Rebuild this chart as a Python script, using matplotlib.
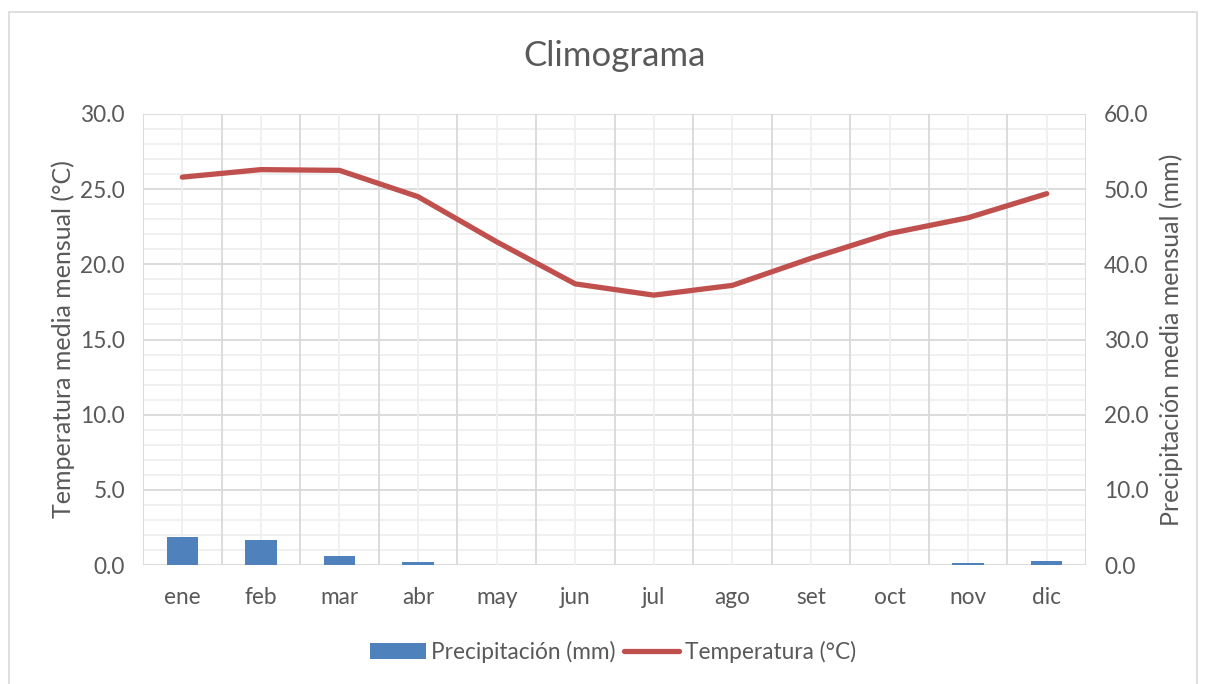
import matplotlib
matplotlib.use("Agg")
import matplotlib.pyplot as plt
from matplotlib.patches import Rectangle
from matplotlib.ticker import MultipleLocator, FormatStrFormatter
import numpy as np

months = ["ene", "feb", "mar", "abr", "may", "jun", "jul", "ago", "set", "oct", "nov", "dic"]
temperatura = [25.8, 26.3, 26.25, 24.5, 21.5, 18.7, 17.95, 18.6, 20.4, 22.05, 23.1, 24.7]
precipitacion = [3.7, 3.3, 1.25, 0.4, 0.0, 0.0, 0.0, 0.0, 0.0, 0.0, 0.2, 0.5]

plt.rcParams['font.family'] = ['Lato', 'DejaVu Sans']
txt = '#595959'
major_c = '#d9d9d9'
minor_c = '#efefef'

fig = plt.figure(figsize=(12.08, 6.84), dpi=100)
fig.patches.append(Rectangle((9/1208, 0 - 0.02), (1197-9)/1208, 1 - 12/684 + 0.02,
                             transform=fig.transFigure, fill=False, edgecolor='#d9d9d9', lw=1.2))

ax = fig.add_axes([143/1208, 1-565/684, (1086-143)/1208, (565-114)/684])
x = np.arange(len(months))

ax.set_xlim(-0.5, len(months) - 0.5)
ax.set_ylim(0, 30)
ax.yaxis.set_major_locator(MultipleLocator(5))
ax.yaxis.set_major_formatter(FormatStrFormatter('%.1f'))
ax.set_xticks(x)
ax.set_xticklabels(months)
ax.grid(False)
for v in np.arange(0, 31, 1):
    ax.axhline(v, color=major_c if v % 5 == 0 else minor_c, lw=1.3, zorder=0)
for b in np.arange(-0.5, len(months)):
    ax.axvline(b, color=major_c, lw=1.3, zorder=0)
for c in x:
    ax.axvline(c, color=minor_c, lw=1.3, zorder=0)
for s in ax.spines.values():
    s.set_visible(False)
ax.tick_params(axis='both', which='both', length=0, colors=txt, labelsize=16.3)
ax.tick_params(axis='x', pad=16)
ax.tick_params(axis='y', pad=13)
ax.set_ylabel('Temperatura media mensual (°C)', color=txt, fontsize=18, labelpad=4)

line, = ax.plot(x, temperatura, color='#C0504D', lw=3.8, label='Temperatura (°C)',
                solid_capstyle='round', solid_joinstyle='round', zorder=3)

ax2 = ax.twinx()
ax2.set_ylim(0, 60)
ax2.yaxis.set_major_locator(MultipleLocator(10))
ax2.yaxis.set_major_formatter(FormatStrFormatter('%.1f'))
bars = ax2.bar(x, precipitacion, width=0.4, color='#4F81BD', label='Precipitación (mm)', zorder=2)
for s in ax2.spines.values():
    s.set_visible(False)
ax2.tick_params(axis='both', which='both', length=0, colors=txt, labelsize=16.3)
ax2.tick_params(axis='y', pad=13)
ax2.set_ylabel('Precipitación media mensual (mm)', color=txt, fontsize=18, labelpad=8)

fig.text(614.5/1208, 1 - 56/684, 'Climograma', ha='center', va='center', fontsize=25, color=txt)

fig.legend([bars, line], ['Precipitación (mm)', 'Temperatura (°C)'], loc='center',
           bbox_to_anchor=(0.5 + 9/1208, 1 - 652/684), ncol=2, frameon=False, fontsize=16.3,
           labelcolor=txt, handlelength=2.45, handletextpad=0.25, columnspacing=0.35,
           handleheight=0.7)

fig.savefig('out.png', dpi=100)
